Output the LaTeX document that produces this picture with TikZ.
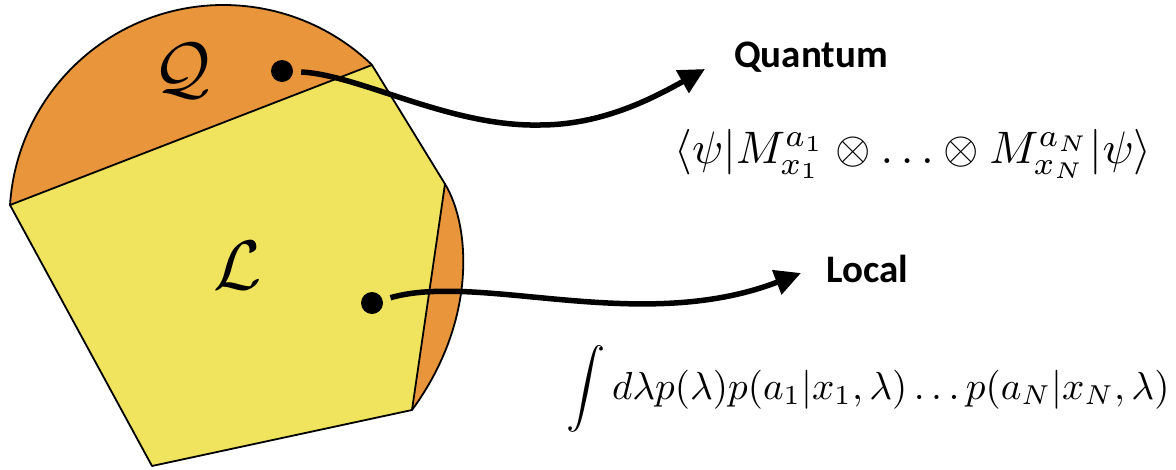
\documentclass[tikz,border=0pt]{standalone}
\usepackage{fontspec}
\newfontfamily\labelfont{Carlito}
\usetikzlibrary{arrows.meta}
\definecolor{qorange}{HTML}{E8953B}
\definecolor{lyellow}{HTML}{F0E35E}
\begin{document}
\begin{tikzpicture}[x=1pt,y=-1pt,
  outline/.style={line width=1.8pt, line join=round},
  dotnode/.style={circle, fill=black, minimum size=22pt, inner sep=0pt},
  arr/.style={line width=5.5pt, -{Triangle[length=26pt,width=25pt]}, shorten <=8pt},
  title/.style={font=\labelfont\bfseries\fontsize{39}{46}\selectfont, inner sep=0pt, anchor=base},
  formula/.style={inner sep=0pt, anchor=base},
  setlabel/.style={inner sep=0pt}]
\useasboundingbox (0,0) rectangle (1176,469);
% quantum set (orange blob)
\fill[qorange] (10,205) arc[start angle=183.75, end angle=314, radius=214]
  -- (445,184) .. controls (470,225) and (478,320) .. (412,410)
  -- (152,466) -- cycle;
% local polytope
\fill[lyellow] (10,205) -- (372,65) -- (445,184) -- (412,410) -- (152,466) -- cycle;
\draw[outline] (10,205) arc[start angle=183.75, end angle=314, radius=214];
\draw[outline] (445,184) .. controls (470,225) and (478,320) .. (412,410);
\draw[outline] (10,205) -- (372,65) -- (445,184) -- (412,410) -- (152,466) -- cycle;
% labels
\node[setlabel] (Q) at (182,71) {\scalebox{7}{$\mathcal{Q}$}};
\node[setlabel] (L) at (238,266) {\scalebox{7}{$\mathcal{L}$}};
\node[dotnode] (qdot) at (282,71) {};
\node[dotnode] (ldot) at (372,303) {};
\coordinate (qtip) at (705,69);
\coordinate (ltip) at (801,273);
\node[title] (quantum) at (811,67) {Quantum};
\node[title] (local) at (867,282) {Local};
\node[formula] (qformula) at (913,163) {\resizebox{477pt}{!}{$\langle\psi|M_{x_1}^{a_1}\otimes\ldots\otimes M_{x_N}^{a_N}|\psi\rangle$}};
\node[formula] (lformula) at (868,399) {\resizebox{603pt}{!}{$\displaystyle\int d\lambda p(\lambda)p(a_1|x_1,\lambda)\ldots p(a_N|x_N,\lambda)$}};
% arrows
\draw[arr] (qdot) .. controls (360,75) and (450,127) .. (540,125) .. controls (600,125) and (650,100) .. (qtip);
\draw[arr] (ldot) .. controls (480,272) and (640,335) .. (ltip);
\end{tikzpicture}
\end{document}
